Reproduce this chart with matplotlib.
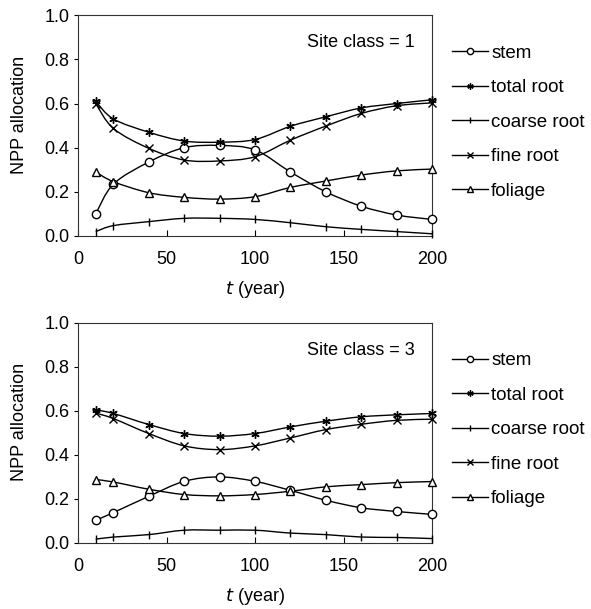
import numpy as np
import matplotlib
matplotlib.use("Agg")
import matplotlib.pyplot as plt
from matplotlib.path import Path
import matplotlib.patches as mpatches
from matplotlib.lines import Line2D

plt.rcParams['font.family'] = ['Liberation Sans', 'DejaVu Sans']
plt.rcParams['font.size'] = 13

# stand age (years)
years = [10, 20, 40, 60, 80, 100, 120, 140, 160, 180, 200]

# site class 1
sc1_stem = [0.10, 0.235, 0.335, 0.40, 0.41, 0.39, 0.29, 0.20, 0.135, 0.095, 0.075]
sc1_total_root = [0.61, 0.53, 0.47, 0.43, 0.425, 0.437, 0.497, 0.54, 0.58, 0.60, 0.617]
sc1_coarse_root = [0.02, 0.047, 0.065, 0.08, 0.08, 0.075, 0.06, 0.042, 0.03, 0.02, 0.01]
sc1_fine_root = [0.60, 0.487, 0.397, 0.344, 0.34, 0.359, 0.434, 0.498, 0.555, 0.59, 0.603]
sc1_foliage = [0.29, 0.246, 0.196, 0.175, 0.167, 0.178, 0.22, 0.249, 0.276, 0.295, 0.303]

# site class 3
sc3_stem = [0.103, 0.138, 0.212, 0.28, 0.30, 0.28, 0.239, 0.194, 0.16, 0.143, 0.13]
sc3_total_root = [0.605, 0.588, 0.538, 0.497, 0.485, 0.497, 0.527, 0.553, 0.573, 0.582, 0.588]
sc3_coarse_root = [0.017, 0.027, 0.038, 0.058, 0.058, 0.058, 0.045, 0.038, 0.027, 0.025, 0.02]
sc3_fine_root = [0.59, 0.565, 0.497, 0.441, 0.424, 0.441, 0.477, 0.515, 0.539, 0.557, 0.562]
sc3_foliage = [0.288, 0.277, 0.244, 0.22, 0.214, 0.22, 0.235, 0.255, 0.265, 0.274, 0.279]

labels = ['stem', 'total root', 'coarse root', 'fine root', 'foliage']
markers = ['o', (6, 2, 0), '|', 'x', '^']


def smooth_line(ax, x, y):
    # Catmull-Rom style bezier through the points (like a spreadsheet "smoothed line")
    x = np.asarray(x, float)
    y = np.asarray(y, float)
    verts = [(x[0], y[0])]
    codes = [Path.MOVETO]
    n = len(x)
    for i in range(n - 1):
        p0 = (x[i - 1], y[i - 1]) if i > 0 else (x[i], y[i])
        p3 = (x[i + 2], y[i + 2]) if i + 2 < n else (x[i + 1], y[i + 1])
        c1 = (x[i] + (x[i + 1] - p0[0]) / 6, y[i] + (y[i + 1] - p0[1]) / 6)
        c2 = (x[i + 1] - (p3[0] - x[i]) / 6, y[i + 1] - (p3[1] - y[i]) / 6)
        verts += [c1, c2, (x[i + 1], y[i + 1])]
        codes += [Path.CURVE4] * 3
    ax.add_patch(mpatches.PathPatch(Path(verts, codes), fill=False,
                                    edgecolor='black', lw=1.0))


def panel(ax, series, site):
    for vals, m in zip(series, markers):
        smooth_line(ax, years, vals)
        ax.plot(years, vals, linestyle='none', marker=m, markersize=6,
                markerfacecolor='white', markeredgecolor='black',
                markeredgewidth=1.0, zorder=3, clip_on=False)
    ax.set_xlim(0, 200)
    ax.set_ylim(0, 1.0)
    ax.set_xticks([0, 50, 100, 150, 200])
    ax.set_yticks(np.arange(0, 1.01, 0.2))
    ax.set_yticklabels([f'{v:.1f}' for v in np.arange(0, 1.01, 0.2)])
    ax.tick_params(axis='x', direction='in', length=4, pad=11, labelsize=13)
    ax.tick_params(axis='y', direction='out', length=3, pad=3, labelsize=13)
    for s in ax.spines.values():
        s.set_color('#333333')
    ax.set_xlabel('$t$ (year)', fontsize=13, labelpad=8)
    ax.set_ylabel('NPP allocation', fontsize=13)
    ax.yaxis.set_label_coords(-0.141, 0.55)
    ax.text(0.95, 0.875, f'Site class = {site}', transform=ax.transAxes,
            ha='right', va='center', fontsize=13)
    handles = [Line2D([], [], color='black', lw=1.0, marker=m, markersize=4.5,
                      markerfacecolor='white', markeredgecolor='black')
               for m in markers]
    ax.legend(handles, labels, loc='upper left', bbox_to_anchor=(1.056, 0.867),
              frameon=False, fontsize=13.5, handlelength=1.95, handletextpad=0.15,
              labelspacing=0.93, borderaxespad=0, borderpad=0)


fig = plt.figure(figsize=(5.91, 6.09), dpi=100)
ax1 = fig.add_axes([0.132, 0.6125, 0.599, 0.3625])
ax2 = fig.add_axes([0.132, 0.1084, 0.599, 0.3616])

panel(ax1, [sc1_stem, sc1_total_root, sc1_coarse_root, sc1_fine_root, sc1_foliage], 1)
panel(ax2, [sc3_stem, sc3_total_root, sc3_coarse_root, sc3_fine_root, sc3_foliage], 3)

fig.savefig('out.png', dpi=100)
